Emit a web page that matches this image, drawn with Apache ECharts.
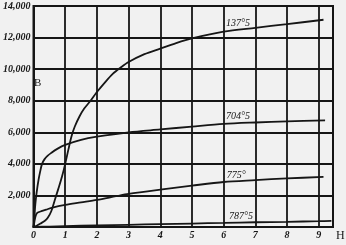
<!DOCTYPE html>
<html>
<head>
<meta charset="utf-8">
<script src="https://cdn.jsdelivr.net/npm/echarts@6/dist/echarts.min.js"></script>
<style>
html,body{margin:0;padding:0;background:#f1f1f1;}
#c{width:346px;height:245px;}
</style>
</head>
<body>
<div id="c"></div>
<script>
// Curve labels (temperatures)
const curveNames = ['137°5', '704°5', '775°', '787°5'];

// H values and B values per curve
const h137 = [0, 0.1, 0.22, 0.35, 0.45, 0.56, 0.67, 0.78, 0.9, 1.0, 1.1, 1.2, 1.3, 1.45, 1.6, 1.8, 2, 2.25, 2.5, 2.75, 3, 3.5, 4, 4.5, 5, 6, 7, 8, 9.15];
const b137 = [0, 80, 220, 380, 580, 1000, 1700, 2400, 3200, 4000, 4900, 5750, 6350, 7000, 7500, 8000, 8550, 9150, 9700, 10100, 10450, 10950, 11300, 11650, 11950, 12380, 12620, 12850, 13130];

const h704 = [0, 0.03, 0.06, 0.1, 0.16, 0.22, 0.27, 0.35, 0.45, 0.55, 0.75, 1.0, 1.5, 2, 3, 4, 5, 6, 7, 8, 9.2];
const b704 = [0, 700, 1500, 2200, 3000, 3600, 4000, 4300, 4520, 4680, 4950, 5200, 5520, 5720, 6000, 6180, 6360, 6530, 6620, 6690, 6760];

const h775 = [0, 0.03, 0.06, 0.1, 0.15, 0.25, 0.4, 0.6, 1, 1.5, 2, 2.6, 3, 4, 5, 6, 7, 8, 9.15];
const b775 = [0, 350, 650, 850, 930, 1000, 1100, 1230, 1400, 1560, 1720, 1950, 2100, 2370, 2620, 2850, 2970, 3080, 3170];

const h787 = [0, 0.5, 1, 2, 3, 4, 5, 6, 7, 8, 9, 9.4];
const b787 = [0, 30, 60, 100, 140, 180, 220, 260, 300, 330, 370, 390];

// Label anchor positions (in data units) for the curve names
const labelH = [6.45, 6.45, 6.4, 6.55];
const labelB = [12900, 7000, 3260, 680];

// Axis ticks
const xMin = 0, xMax = 9.45, xStep = 1;
const yMin = 0, yMax = 14000, yStep = 2000;

const hs = [h137, h704, h775, h787];
const bs = [b137, b704, b775, b787];

const ink = '#161616';
const serif = '"Liberation Serif", "DejaVu Serif", serif';

const series = curveNames.map((name, i) => ({
  name: name,
  type: 'line',
  data: hs[i].map((h, j) => [h, bs[i][j]]),
  smooth: 0.3,
  showSymbol: false,
  symbol: 'none',
  lineStyle: { color: ink, width: 1.8 },
  z: 5,
  markPoint: {
    symbol: 'circle',
    symbolSize: 0,
    silent: true,
    data: [{ coord: [labelH[i], labelB[i]] }],
    label: {
      show: true,
      formatter: name,
      position: 'inside',
      color: ink,
      fontFamily: serif,
      fontStyle: 'italic',
      fontSize: 10
    }
  }
}));

const chart = echarts.init(document.getElementById('c'), null, { renderer: 'canvas' });
chart.setOption({
  backgroundColor: '#f1f1f1',
  animation: false,
  grid: { left: 32, right: 13, top: 6, bottom: 18, show: true, borderColor: ink, borderWidth: 2, backgroundColor: 'transparent' },
  xAxis: {
    type: 'value', min: xMin, max: xMax, interval: xStep,
    axisLine: { show: true, lineStyle: { color: ink, width: 2 } },
    axisTick: { show: false },
    splitLine: { show: true, lineStyle: { color: ink, width: 1.8 } },
    axisLabel: {
      margin: 3,
      color: ink, fontFamily: serif, fontStyle: 'italic', fontWeight: 'bold', fontSize: 10,
      formatter: v => (Math.abs(v - Math.round(v)) < 1e-6 ? String(Math.round(v)) : '')
    }
  },
  yAxis: {
    type: 'value', min: yMin, max: yMax, interval: yStep,
    axisLine: { show: true, lineStyle: { color: ink, width: 2 } },
    axisTick: { show: false },
    splitLine: { show: true, lineStyle: { color: ink, width: 1.8 } },
    axisLabel: {
      margin: 3,
      color: ink, fontFamily: serif, fontStyle: 'italic', fontWeight: 'bold', fontSize: 10,
      formatter: v => (v === 0 ? '' : v.toLocaleString('en-US'))
    }
  },
  graphic: [
    { type: 'text', left: 34, top: 78, style: { text: 'B', fill: ink, font: '11px "Liberation Serif", serif' } },
    { type: 'text', left: 336, top: 230, style: { text: 'H', fill: ink, font: '12px "Liberation Serif", serif' } }
  ],
  series: series
});
</script>
</body>
</html>
